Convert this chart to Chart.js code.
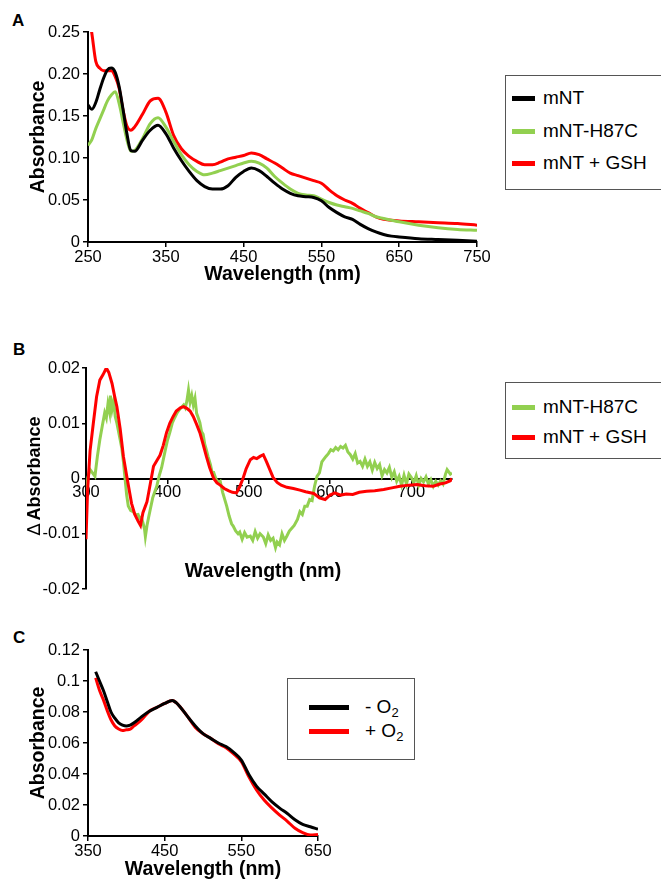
<!DOCTYPE html>
<html><head><meta charset="utf-8">
<script src="https://cdn.jsdelivr.net/npm/chart.js@4.4.1/dist/chart.umd.min.js"></script>
<style>
html,body{margin:0;padding:0;background:#fff;width:661px;height:881px;overflow:hidden;font-family:"Liberation Sans",Arial,sans-serif;color:#000;}
canvas{position:absolute;left:0;}
.lbl{position:absolute;font-weight:bold;font-size:17px;line-height:17px;}
.legend{position:absolute;border:1.5px solid #555;box-sizing:border-box;background:#fff;}
.item{position:absolute;font-size:19px;line-height:19px;white-space:nowrap;}
.item sub{font-size:13px;vertical-align:-4px;line-height:0;}
.swatch{position:absolute;}
</style></head><body>
<div class="lbl" style="left:12px;top:12px">A</div>
<div class="lbl" style="left:13px;top:341px">B</div>
<div class="lbl" style="left:13px;top:629px">C</div>
<canvas id="cA" width="490" height="290" style="top:0px"></canvas>
<canvas id="cB" width="490" height="270" style="top:330px"></canvas>
<canvas id="cC" width="340" height="281" style="top:600px"></canvas>
<script>
// ---------- Panel A ----------
const wlA = [250,255,260,265,270,275,280,285,290,295,300,305,310,320,330,340,350,360,370,380,390,400,410,420,430,440,450,460,470,480,490,500,510,520,530,540,550,560,570,580,590,600,610,620,630,640,650,675,700,725,750];
const absA_mNT = [0.163,0.158,0.166,0.181,0.195,0.205,0.207,0.202,0.185,0.158,0.129,0.109,0.108,0.121,0.133,0.139,0.129,0.112,0.097,0.084,0.073,0.066,0.063,0.063,0.067,0.077,0.084,0.088,0.085,0.078,0.070,0.063,0.058,0.055,0.054,0.053,0.049,0.041,0.035,0.030,0.027,0.021,0.016,0.012,0.009,0.007,0.006,0.004,0.003,0.002,0.001];
const absA_H87C = [0.115,0.122,0.135,0.146,0.157,0.168,0.175,0.179,0.165,0.143,0.122,0.108,0.109,0.123,0.141,0.148,0.137,0.120,0.104,0.092,0.084,0.080,0.082,0.085,0.088,0.091,0.094,0.096,0.094,0.088,0.078,0.070,0.063,0.058,0.056,0.055,0.051,0.047,0.044,0.042,0.040,0.037,0.034,0.030,0.028,0.026,0.024,0.020,0.017,0.015,0.014];
const absA_GSH = [0.275,0.248,0.215,0.207,0.204,0.204,0.204,0.197,0.183,0.157,0.138,0.133,0.137,0.152,0.168,0.171,0.155,0.127,0.111,0.102,0.096,0.092,0.092,0.095,0.099,0.101,0.103,0.106,0.104,0.099,0.094,0.088,0.082,0.079,0.076,0.073,0.070,0.062,0.055,0.050,0.046,0.040,0.035,0.030,0.027,0.026,0.025,0.024,0.023,0.022,0.020];
const xTicksA = [250,350,450,550,650,750];
const xLabelsA = ['250','350','450','550','650','750'];
const yTicksA = [0,0.05,0.10,0.15,0.20,0.25];
const yLabelsA = ['0','0.05','0.10','0.15','0.20','0.25'];
const seriesNamesA = ['mNT','mNT-H87C','mNT + GSH'];

// ---------- Panel B ----------
const wlB_H87C = [300,302,305,308,311,314,317,320,323,325,327,329,330,332,334,336,338,340,342,344,346,348,350,352,355,358,361,364,366,368,370,372,373,375,377,379,382,385,387,390,393,395,398,400,403,406,409,412,415,418,420,422,424,426,428,430,432,434,436,438,440,442,444,446,448,450,453,455,457,460,463,465,468,471,473,476,479,481,484,487,489,492,495,498,502,505,508,511,514,518,521,524,527,530,533,535,538,541,544,547,550,553,556,560,563,566,569,572,575,578,581,584,587,590,592,595,598,601,604,607,610,613,616,619,622,625,628,631,634,637,640,643,646,649,652,655,658,661,664,667,670,673,676,679,682,685,688,691,694,697,700,703,706,709,712,715,718,721,724,727,730,733,736,739,742,744,746,748,750];
const dAbsB_H87C = [-0.004,0.000,0.0016,0.0010,0.0004,0.0040,0.0070,0.0095,0.0119,0.0110,0.0135,0.0120,0.0150,0.0125,0.0140,0.0112,0.0100,0.0085,0.0070,0.0055,0.0030,0.0000,-0.0030,-0.0050,-0.0058,-0.0060,-0.0066,-0.0065,-0.0072,-0.0070,-0.0080,-0.0092,-0.0105,-0.0085,-0.0070,-0.0056,-0.0035,-0.0022,-0.0014,0.0005,0.0020,0.0034,0.0055,0.0068,0.0083,0.0100,0.0110,0.0119,0.0125,0.0130,0.0133,0.0128,0.0140,0.0160,0.0138,0.0150,0.0133,0.0145,0.0118,0.0110,0.0101,0.0085,0.0080,0.0062,0.0052,0.0040,0.0025,0.0011,0.0011,-0.0002,-0.0007,-0.0005,-0.0025,-0.0040,-0.0050,-0.0068,-0.0082,-0.0086,-0.0095,-0.0100,-0.0097,-0.0110,-0.0098,-0.0106,-0.0104,-0.0112,-0.0096,-0.0108,-0.0100,-0.0106,-0.0118,-0.0102,-0.0112,-0.0108,-0.0125,-0.0115,-0.0120,-0.0100,-0.0112,-0.0104,-0.0095,-0.0090,-0.0085,-0.0074,-0.0060,-0.0065,-0.0050,-0.0050,-0.0038,-0.0040,-0.0014,0.0004,0.0010,0.0030,0.0034,0.0040,0.0045,0.0052,0.0050,0.0056,0.0052,0.0058,0.0055,0.0060,0.0048,0.0043,0.0035,0.0045,0.0028,0.0031,0.0022,0.0035,0.0022,0.0030,0.0015,0.0029,0.0018,0.0025,0.0005,0.0016,0.0010,0.0020,0.0002,0.0012,-0.0005,0.0004,-0.0012,0.0006,-0.0010,0.0008,0.0002,-0.0008,0.0005,-0.0012,0.0000,-0.0006,0.0003,-0.0010,-0.0002,-0.0014,-0.0005,-0.0012,-0.0004,-0.0010,0.0008,0.0016,0.0012,0.0008,0.0010];
const wlB_GSH = [300,302,305,309,313,317,321,325,328,332,335,338,342,346,350,353,356,360,364,367,370,373,375,379,383,387,391,395,399,403,407,411,416,420,424,428,432,436,440,444,448,452,457,461,465,470,475,480,485,489,493,497,502,506,510,514,518,522,526,530,535,540,547,555,563,570,580,587,594,600,606,613,620,628,636,645,655,666,676,686,697,707,717,727,735,742,748,750];
const dAbsB_GSH = [-0.011,-0.002,0.005,0.010,0.0148,0.0178,0.0188,0.0200,0.0192,0.0172,0.0150,0.0130,0.0090,0.0040,0.0005,-0.0020,-0.0045,-0.0065,-0.0077,-0.0085,-0.0062,-0.0050,-0.0042,-0.0010,0.0022,0.0032,0.0042,0.0060,0.0083,0.0100,0.0112,0.0122,0.0128,0.0130,0.0127,0.0122,0.0112,0.0098,0.0083,0.0062,0.0040,0.0020,0.0000,-0.0008,-0.0012,-0.0018,-0.0022,-0.0025,-0.0026,-0.0015,0.0000,0.0018,0.0034,0.0038,0.0036,0.0040,0.0043,0.0030,0.0016,0.0002,-0.0007,-0.0012,-0.0016,-0.0018,-0.0021,-0.0024,-0.0027,-0.0035,-0.0038,-0.0030,-0.0026,-0.0030,-0.0028,-0.0029,-0.0025,-0.0023,-0.0022,-0.0020,-0.0017,-0.0014,-0.0012,-0.0011,-0.0013,-0.0014,-0.0010,-0.0008,-0.0004,0.0000];
const xTicksB = [300,400,500,600,700];
const xLabelsB = ['300','400','500','600','700'];
const yTicksB = [-0.02,-0.01,0,0.01,0.02];
const yLabelsB = ['-0.02','-0.01','0','0.01','0.02'];
const seriesNamesB = ['mNT-H87C','mNT + GSH'];

// ---------- Panel C ----------
const wlC = [360,365,370,375,380,385,390,395,400,405,410,420,430,440,450,460,465,470,480,490,500,510,520,530,540,550,560,570,580,590,600,610,620,630,640,650];
const absC_minusO2 = [0.106,0.100,0.094,0.087,0.080,0.076,0.073,0.0716,0.071,0.0716,0.073,0.077,0.0805,0.083,0.0855,0.0875,0.086,0.0834,0.077,0.071,0.066,0.063,0.060,0.0577,0.054,0.049,0.0395,0.032,0.027,0.022,0.018,0.0145,0.0105,0.0075,0.006,0.0044];
const absC_plusO2 = [0.102,0.094,0.088,0.081,0.075,0.071,0.069,0.068,0.0685,0.069,0.071,0.075,0.0805,0.083,0.0855,0.0875,0.086,0.0834,0.077,0.070,0.066,0.063,0.0595,0.057,0.053,0.048,0.038,0.0295,0.023,0.018,0.0135,0.0095,0.005,0.0022,0.0007,0.001];
const xTicksC = [350,450,550,650];
const xLabelsC = ['350','450','550','650'];
const yTicksC = [0,0.02,0.04,0.06,0.08,0.10,0.12];
const yLabelsC = ['0','0.02','0.04','0.06','0.08','0.1','0.12'];

const BLACK = '#000000', GREEN = '#92D050', RED = '#FF0000';
const FONT = '"Liberation Sans", Arial, Helvetica, sans-serif';
Chart.defaults.font.family = FONT;
Chart.defaults.color = '#000';

const pts = (xs, ys) => xs.map((x, i) => ({x: x, y: ys[i]}));

function axis(opts) {
  const o = {
    type: 'linear', min: opts.min, max: opts.max,
    grid: {drawOnChartArea: false, drawTicks: true, tickLength: opts.tl || 5, color: '#000', lineWidth: 1.5},
    border: {display: true, color: '#000', width: 2},
    ticks: {autoSkip: false, maxRotation: 0, padding: opts.pad, font: {size: 16.5}, color: '#000',
            callback: (v, i) => opts.labels[i]},
    afterBuildTicks: s => { s.ticks = opts.ticks.map(v => ({value: v})); },
    afterFit: s => {
      if (opts.w !== undefined) s.width = opts.w;
      if (opts.h !== undefined) s.height = opts.h;
      s.paddingLeft = 0; s.paddingRight = 0; s.paddingTop = 0; s.paddingBottom = 0;
    }
  };
  if (opts.title) {
    o.title = {display: true, text: opts.title, color: '#000',
      font: {size: 19.5, weight: 'bold', lineHeight: 1}, padding: opts.tpad};
  }
  if (opts.position) o.position = opts.position;
  return o;
}

function ds(label, data, color, tension) {
  return {label, data, borderColor: color, backgroundColor: color, borderWidth: 3,
    pointRadius: 0, tension: tension, cubicInterpolationMode: tension ? 'monotone' : 'default', fill: false};
}

const baseOpts = (padding, scales) => ({
  responsive: false, animation: false, devicePixelRatio: 1,
  layout: {padding},
  plugins: {legend: {display: false}, tooltip: {enabled: false}},
  scales
});

// Panel A chart
new Chart(document.getElementById('cA'), {
  type: 'line',
  data: {datasets: [
    ds(seriesNamesA[0], pts(wlA, absA_mNT), BLACK, 0.4),
    ds(seriesNamesA[1], pts(wlA, absA_H87C), GREEN, 0.4),
    ds(seriesNamesA[2], pts(wlA, absA_GSH), RED, 0.4)
  ]},
  options: baseOpts({top: 32, right: 13, left: 0, bottom: 0}, {
    x: axis({min: 250, max: 750, ticks: xTicksA, labels: xLabelsA, h: 48, pad: 1, title: 'Wavelength (nm)', tpad: {top: 0, bottom: 5.5}}),
    y: axis({min: 0, max: 0.25, ticks: yTicksA, labels: yLabelsA, w: 88, pad: 3, title: 'Absorbance', tpad: {top: 28.5, bottom: 0}})
  })
});

// Panel B chart: axis titles drawn by a small plugin (x axis crosses at 0; Δ in regular weight)
const bTitles = {
  id: 'bTitles',
  afterDraw(chart) {
    const ctx = chart.ctx;
    ctx.save();
    ctx.fillStyle = '#000';
    ctx.textBaseline = 'middle';
    ctx.font = 'bold 19.5px ' + FONT;
    ctx.textAlign = 'center';
    ctx.fillText('Wavelength (nm)', 263, 242);
    // rotated y title
    ctx.translate(35, 146);
    ctx.rotate(-Math.PI / 2);
    ctx.textAlign = 'left';
    const fD = '18px "DejaVu Sans", ' + FONT, fA = 'bold 18px ' + FONT;
    ctx.font = fD; const wD = ctx.measureText('\u2206').width;
    ctx.font = fA; const wA = ctx.measureText('Absorbance').width;
    const gap = 3, start = -(wD + gap + wA) / 2;
    ctx.font = fD; ctx.fillText('\u2206', start, 0);
    ctx.font = fA; ctx.fillText('Absorbance', start + wD + gap, 0);
    ctx.restore();
  }
};
new Chart(document.getElementById('cB'), {
  type: 'line',
  data: {datasets: [
    ds(seriesNamesB[1], pts(wlB_GSH, dAbsB_GSH), RED, 0),
    ds(seriesNamesB[0], pts(wlB_H87C, dAbsB_H87C), GREEN, 0)
  ]},
  options: baseOpts({top: 38, right: 38, left: 0, bottom: 11}, {
    x: axis({min: 300, max: 750, ticks: xTicksB, labels: xLabelsB, pad: 0, tl: 4, position: {y: 0}}),
    y: axis({min: -0.02, max: 0.02, ticks: yTicksB, labels: yLabelsB, w: 86, pad: 2, tl: 4})
  }),
  plugins: [bTitles]
});

// Panel C chart
new Chart(document.getElementById('cC'), {
  type: 'line',
  data: {datasets: [
    ds('- O2', pts(wlC, absC_minusO2), BLACK, 0.4),
    ds('+ O2', pts(wlC, absC_plusO2), RED, 0.4)
  ]},
  options: baseOpts({top: 50, right: 22, left: 0, bottom: 0}, {
    x: axis({min: 350, max: 650, ticks: xTicksC, labels: xLabelsC, h: 45, pad: 1, title: 'Wavelength (nm)', tpad: {top: 0, bottom: 1.5}}),
    y: axis({min: 0, max: 0.12, ticks: yTicksC, labels: yLabelsC, w: 88, pad: 3, title: 'Absorbance', tpad: {top: 28.5, bottom: 0}})
  })
});

// ---------- HTML legends ----------
function legend(box, items) {
  const d = document.createElement('div');
  d.className = 'legend';
  Object.assign(d.style, {left: box.x + 'px', top: box.y + 'px', width: box.w + 'px', height: box.h + 'px'});
  document.body.appendChild(d);
  items.forEach(it => {
    const sw = document.createElement('div');
    sw.className = 'swatch';
    Object.assign(sw.style, {left: it.sx + 'px', top: (it.cy - it.sh / 2) + 'px', width: it.sw + 'px', height: it.sh + 'px', background: it.color});
    document.body.appendChild(sw);
    const t = document.createElement('div');
    t.className = 'item';
    t.innerHTML = it.html;
    Object.assign(t.style, {left: it.tx + 'px', top: (it.cy - 10) + 'px'});
    document.body.appendChild(t);
  });
}
legend({x: 505, y: 75, w: 160, h: 115}, [
  {html: seriesNamesA[0], color: BLACK, cy: 98, sx: 512, sw: 23, sh: 5, tx: 543},
  {html: seriesNamesA[1], color: GREEN, cy: 131, sx: 512, sw: 23, sh: 5, tx: 543},
  {html: seriesNamesA[2], color: RED, cy: 163, sx: 512, sw: 23, sh: 5, tx: 543}
]);
legend({x: 505, y: 382, w: 160, h: 77}, [
  {html: seriesNamesB[0], color: GREEN, cy: 407, sx: 512, sw: 23, sh: 5, tx: 543},
  {html: seriesNamesB[1], color: RED, cy: 437, sx: 512, sw: 23, sh: 5, tx: 543}
]);
legend({x: 287, y: 678, w: 128, h: 82}, [
  {html: '- O<sub>2</sub>', color: BLACK, cy: 707, sx: 309, sw: 40, sh: 5, tx: 365},
  {html: '+ O<sub>2</sub>', color: RED, cy: 731, sx: 309, sw: 40, sh: 5, tx: 365}
]);
</script>
</body></html>
